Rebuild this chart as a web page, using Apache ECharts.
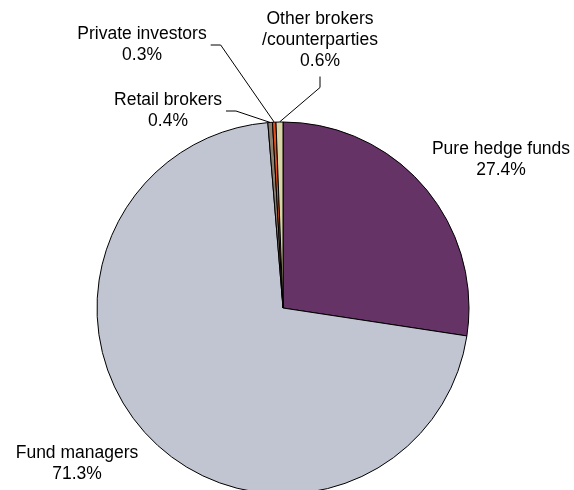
<!DOCTYPE html>
<html>
<head>
<meta charset="utf-8">
<script src="https://cdn.jsdelivr.net/npm/echarts@6/dist/echarts.min.js"></script>
<style>
  html, body { margin: 0; padding: 0; background: #fff; }
  #chart { width: 574px; height: 490px; }
</style>
</head>
<body>
<div id="chart"></div>
<script>
// data (share of total, %)
var names = ['Pure hedge funds', 'Fund managers', 'Retail brokers', 'Private investors', 'Other brokers\n/counterparties'];
var shares = [27.4, 71.3, 0.4, 0.3, 0.6];
var colors = ['#663366', '#c0c5d1', '#8b7f6f', '#e0501e', '#d9d5a7'];

// where each label block sits (centre) and how its leader leaves it
var labelPos = [[501, 160], [77, 464], [168, 111], [142, 45], [320, 40]];
var guideSide = [null, null, 'right', 'right', 'bottom'];

var chart = echarts.init(document.getElementById('chart'));

var pieData = names.map(function (n, i) {
    return {
        name: n,
        value: shares[i],
        itemStyle: { color: colors[i] },
        labelLine: { show: guideSide[i] !== null }
    };
});

chart.setOption({
    animation: false,
    series: [{
        type: 'pie',
        center: [283, 308],
        radius: 186,
        startAngle: 90,
        clockwise: true,
        avoidLabelOverlap: false,
        itemStyle: { borderColor: '#000', borderWidth: 1 },
        label: {
            show: true,
            formatter: function (p) { return p.name + '\n' + p.value + '%'; },
            fontFamily: 'Liberation Sans, Arial, sans-serif',
            fontSize: 17.5,
            lineHeight: 21,
            color: '#000',
            align: 'center'
        },
        labelLine: {
            length: 10,
            length2: 10,
            lineStyle: { color: '#000', width: 1 }
        },
        emphasis: { disabled: true },
        labelLayout: function (p) {
            var i = p.dataIndex;
            var pos = labelPos[i];
            var w = p.labelRect.width, h = p.labelRect.height;
            var res = { x: pos[0], y: pos[1], align: 'center', verticalAlign: 'middle' };
            var pts = p.labelLinePoints;
            if (guideSide[i] && pts) {
                var p0 = pts[0], p1, p2;
                if (guideSide[i] === 'right') {
                    p2 = [pos[0] + w / 2 + 4, pos[1]];
                    p1 = [p2[0] + 10, p2[1]];
                } else {
                    p2 = [pos[0], pos[1] + h / 2 + 5];
                    p1 = [p2[0], p2[1] + 11];
                }
                res.labelLinePoints = [p0, p1, p2];
            }
            return res;
        },
        data: pieData
    }]
});
</script>
</body>
</html>
